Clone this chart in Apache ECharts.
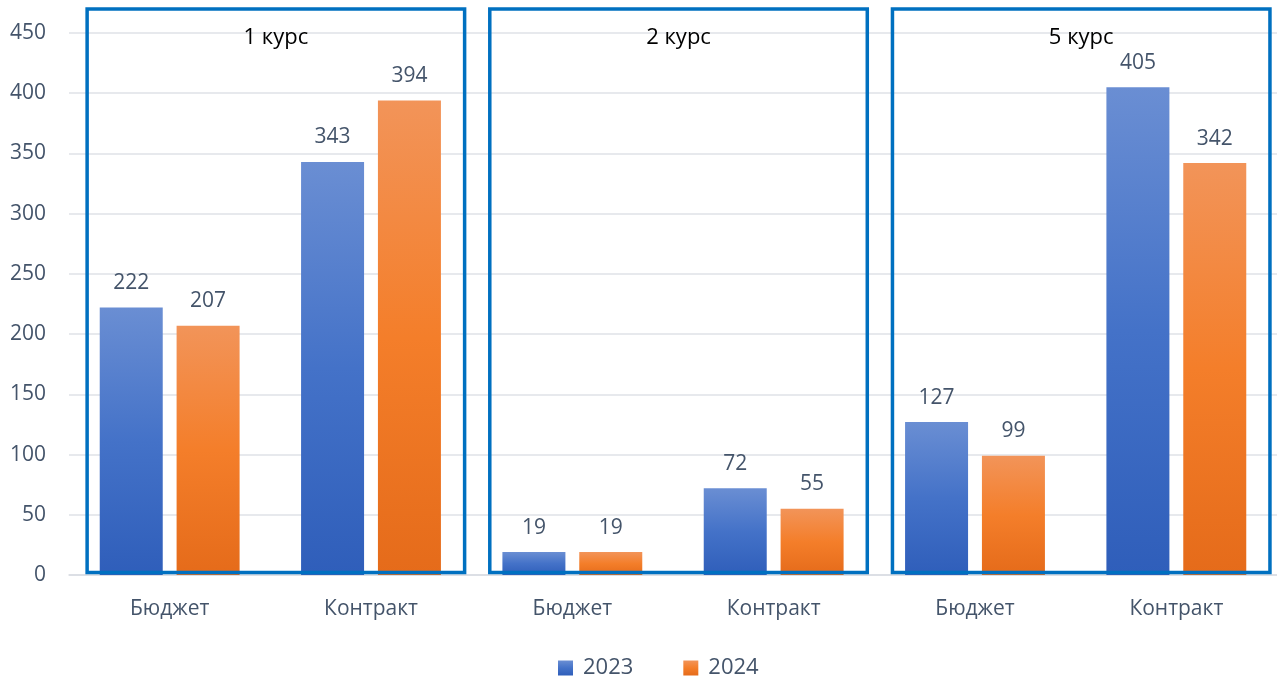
<!DOCTYPE html>
<html><head><meta charset="utf-8">
<script src="https://cdn.jsdelivr.net/npm/echarts@6/dist/echarts.min.js"></script>
<style>html,body{margin:0;padding:0;background:#fff}#c{width:1277px;height:679px}</style>
</head><body><div id="c"></div>
<script>
const categories = ['Бюджет','Контракт','Бюджет','Контракт','Бюджет','Контракт'];
const values2023 = [222, 343, 19, 72, 127, 405];
const values2024 = [207, 394, 19, 55, 99, 342];
const seriesNames = ['2023','2024'];
const panelLabels = ['1 курс','2 курс','5 курс'];
const panelRanges = [[0,1],[2,3],[4,5]];

const FONT = '"Open Sans", "Noto Sans", sans-serif';
const TXT = '#44546A';

function grad(c0, c1, c2){
  return new echarts.graphic.LinearGradient(0,0,0,1,[
    {offset:0,color:c0},{offset:0.5,color:c1},{offset:1,color:c2}]);
}

const chart = echarts.init(document.getElementById('c'), null, {renderer:'canvas'});
const option = {
  animation:false,
  grid:{left:69, right:-4, top:33, bottom:104},
  legend:{
    data:seriesNames, top:652, left:553, icon:'rect', itemWidth:15, itemHeight:15,
    itemGap:50, textStyle:{color:TXT, fontSize:22, fontFamily:FONT, padding:[0,0,0,5]}
  },
  xAxis:{
    type:'category', data:categories,
    axisLine:{lineStyle:{color:'#D9DCE2', width:1.5}}, axisTick:{show:false},
    axisLabel:{color:TXT, fontSize:21, fontFamily:FONT, margin:24}
  },
  yAxis:{
    type:'value', min:0, max:450, interval:50,
    axisLine:{show:false}, axisTick:{show:false},
    splitLine:{lineStyle:{color:'#DFE2E7', width:1.5}},
    axisLabel:{color:TXT, fontSize:21, fontFamily:FONT, margin:23}
  },
  series:[
    {name:seriesNames[0], type:'bar', data:values2023, barWidth:63, barGap:'22%',
     itemStyle:{color:grad('#6A8ED3','#4472C8','#2F5EBA')},
     label:{show:true, position:'top', distance:14, color:TXT, fontSize:21, fontFamily:FONT}},
    {name:seriesNames[1], type:'bar', data:values2024, barWidth:63,
     itemStyle:{color:grad('#F29459','#F47E2A','#E56B1A')},
     label:{show:true, position:'top', distance:14, color:TXT, fontSize:21, fontFamily:FONT}},
    {type:'custom', z:10, silent:true,
     data: panelRanges.map(r=>[r[0], r[1]]),
     encode:{x:[0,1]},
     renderItem:function(params, api){
       const a = api.value(0), b = api.value(1);
       const band = api.size([1,0])[0];
       const pa = api.coord([a, 470]);
       const pb = api.coord([b, 2]);
       const x0 = pa[0] - 0.41*band, x1 = pb[0] + 0.465*band;
       const y0 = pa[1], y1 = pb[1];
       const ty = api.coord([a, 446])[1];
       return {type:'group', children:[
         {type:'rect', shape:{x:x0, y:y0, width:x1-x0, height:y1-y0},
          style:{fill:null, stroke:'#0070C0', lineWidth:3.5}},
         {type:'text', x:(x0+x1)/2, y:ty,
          style:{text:panelLabels[params.dataIndex], fill:'#000', fontSize:22, fontFamily:FONT, align:'center', verticalAlign:'middle'}}
       ]};
     }}
  ]
};
chart.setOption(option);
</script></body></html>
